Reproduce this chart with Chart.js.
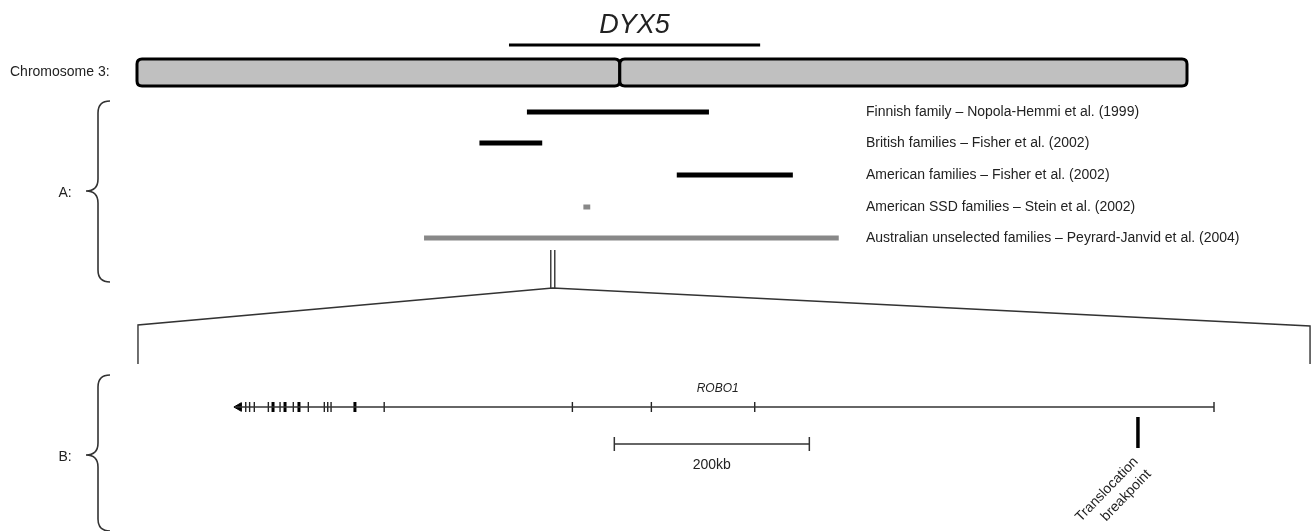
<!DOCTYPE html>
<html><head><meta charset="utf-8">
<script src="https://cdn.jsdelivr.net/npm/chart.js@4.4.1/dist/chart.umd.min.js"></script>
<style>html,body{margin:0;padding:0;background:#fff;}#wrap{width:1313px;height:531px;position:relative;}</style>
</head><body><div id="wrap"><canvas id="c"></canvas></div>
<script>
// ---------------- DATA ----------------
const chromosomeName = 'Chromosome 3:';
const chromosomeLengthMb = 199;
const centromereMb = 91.5;
const dyx5Label = 'DYX5';
const dyx5RegionMb = [70.5, 118.1];
const studyLabels = [
  'Finnish family \u2013 Nopola-Hemmi et al. (1999)',
  'British families \u2013 Fisher et al. (2002)',
  'American families \u2013 Fisher et al. (2002)',
  'American SSD families \u2013 Stein et al. (2002)',
  'Australian unselected families \u2013 Peyrard-Janvid et al. (2004)'
];
const studyStartMb = [73.9, 64.9, 102.3, 84.6, 54.4];
const studyEndMb   = [108.4, 76.8, 124.3, 85.9, 133.0];
const zoomCentreMb = 78.8;
const panelLabels = ['A:', 'B:'];
const geneName = 'ROBO1';
const geneSpanKb = [0, 1004];
const exonKb = [11, 15, 19.8, 34.2, 46.2, 59.8, 75.2, 91.6, 95.1, 98.5, 153, 346, 427, 533, 1004];
const exonWideKb = [39, 51.3, 65.6, 123];
const breakpointKb = 926;
const breakpointLabel = ['Translocation', 'breakpoint'];
const scaleBarKb = [389, 589];
const scaleBarLabel = '200kb';

// ---------------- LAYOUT / STYLE ----------------
const W = 1313, H = 531;
const L = {
  chromPx: [137, 1187], genePx: [235, 1214],
  yDyx5Text: 25, yDyx5: 45, chromTop: 59, chromBot: 86,
  rowY: [112, 143, 175, 207, 238],
  doubleTop: 250, apexY: 288, zoomLeftY: 325, zoomRightY: 326, bracketBottom: 364,
  yGene: 407, yGeneLabel: 389, yBreak: 432.5, yScale: 444, yScaleLabel: 465,
  legendX: 866, chromLabelX: 10,
  braceA: [101, 191, 282], braceB: [375, 455, 531],
  braceTip: 86, braceVert: 98, braceHook: 110, panelLabelX: 65,
  bracketKb: [-99.5, 1102.5]
};
const studyColors = ['#000', '#000', '#000', '#888', '#888'];
const FONT = '"Liberation Sans", Arial, sans-serif';
const TEXT = '#222', LINE = '#333';

const pxPerMb = (L.chromPx[1] - L.chromPx[0]) / chromosomeLengthMb;
const pxPerKb = (L.genePx[1] - L.genePx[0]) / (geneSpanKb[1] - geneSpanKb[0]);

const seg = (a, b, y) => [{x: a, y: y}, {x: b, y: y}];
const datasets = [];
datasets.push({xAxisID: 'x', data: seg(dyx5RegionMb[0], dyx5RegionMb[1], L.yDyx5), borderColor: '#000', borderWidth: 3, showLine: true, pointRadius: 0});
studyLabels.forEach((lab, i) => {
  datasets.push({label: lab, xAxisID: 'x', data: seg(studyStartMb[i], studyEndMb[i], L.rowY[i]), borderColor: studyColors[i], borderWidth: 5, showLine: true, pointRadius: 0});
});
datasets.push({xAxisID: 'xg', data: seg(geneSpanKb[0], geneSpanKb[1], L.yGene), borderColor: LINE, borderWidth: 1.6, showLine: true, pointRadius: 0});
datasets.push({xAxisID: 'xg', data: [{x: geneSpanKb[0] + 4, y: L.yGene}], pointStyle: 'triangle', rotation: -90, pointRadius: 5, backgroundColor: '#000', borderColor: '#000', borderWidth: 1, showLine: false});
datasets.push({xAxisID: 'xg', data: exonKb.map(k => ({x: k, y: L.yGene})), pointStyle: 'line', rotation: 90, pointRadius: 5, borderColor: '#222', borderWidth: 1.4, showLine: false});
datasets.push({xAxisID: 'xg', data: exonWideKb.map(k => ({x: k, y: L.yGene})), pointStyle: 'line', rotation: 90, pointRadius: 5, borderColor: '#000', borderWidth: 3, showLine: false});
datasets.push({xAxisID: 'xg', data: [{x: breakpointKb, y: L.yBreak}], pointStyle: 'line', rotation: 90, pointRadius: 15.5, borderColor: '#000', borderWidth: 3.5, showLine: false});
datasets.push({xAxisID: 'xg', data: seg(scaleBarKb[0], scaleBarKb[1], L.yScale), borderColor: LINE, borderWidth: 1.5, showLine: true, pointStyle: 'line', rotation: 90, pointRadius: 7, pointBorderColor: LINE, pointBorderWidth: 1.5});

function roundRect(ctx, x, y, w, h, r) {
  ctx.beginPath();
  ctx.moveTo(x + r, y); ctx.lineTo(x + w - r, y); ctx.quadraticCurveTo(x + w, y, x + w, y + r);
  ctx.lineTo(x + w, y + h - r); ctx.quadraticCurveTo(x + w, y + h, x + w - r, y + h);
  ctx.lineTo(x + r, y + h); ctx.quadraticCurveTo(x, y + h, x, y + h - r);
  ctx.lineTo(x, y + r); ctx.quadraticCurveTo(x, y, x + r, y); ctx.closePath();
}
function brace(ctx, top, mid, bot) {
  const t = L.braceTip, v = L.braceVert, h = L.braceHook, r = 12;
  ctx.beginPath();
  ctx.moveTo(h, top); ctx.quadraticCurveTo(v, top, v, top + r);
  ctx.lineTo(v, mid - r); ctx.quadraticCurveTo(v, mid, t, mid);
  ctx.quadraticCurveTo(v, mid, v, mid + r);
  ctx.lineTo(v, bot - r); ctx.quadraticCurveTo(v, bot, h, bot);
  ctx.stroke();
}

const diagram = {
  id: 'diagram',
  beforeDatasetsDraw(chart) {
    const ctx = chart.ctx, x = chart.scales.x, xg = chart.scales.xg, y = chart.scales.y;
    ctx.save();
    // chromosome arms
    ctx.lineWidth = 3; ctx.strokeStyle = '#000'; ctx.fillStyle = '#c0c0c0';
    const top = y.getPixelForValue(L.chromTop), bot = y.getPixelForValue(L.chromBot);
    [[0, centromereMb], [centromereMb, chromosomeLengthMb]].forEach(([a, b]) => {
      const x0 = x.getPixelForValue(a), x1 = x.getPixelForValue(b);
      roundRect(ctx, x0, top, x1 - x0, bot - top, 5);
      ctx.fill(); ctx.stroke();
    });
    // zoom connector
    ctx.lineWidth = 1.4; ctx.strokeStyle = LINE;
    const ax = x.getPixelForValue(zoomCentreMb);
    ctx.beginPath();
    ctx.moveTo(ax - 2, L.doubleTop); ctx.lineTo(ax - 2, L.apexY);
    ctx.moveTo(ax + 2, L.doubleTop); ctx.lineTo(ax + 2, L.apexY);
    ctx.stroke();
    const lx = xg.getPixelForValue(L.bracketKb[0]), rx = xg.getPixelForValue(L.bracketKb[1]);
    ctx.beginPath();
    ctx.moveTo(lx, L.bracketBottom); ctx.lineTo(lx, L.zoomLeftY); ctx.lineTo(ax, L.apexY);
    ctx.lineTo(rx, L.zoomRightY); ctx.lineTo(rx, L.bracketBottom);
    ctx.stroke();
    // braces
    ctx.lineWidth = 1.6;
    brace(ctx, ...L.braceA); brace(ctx, ...L.braceB);
    // texts
    ctx.fillStyle = TEXT; ctx.textBaseline = 'middle';
    ctx.font = 'italic 27px ' + FONT; ctx.textAlign = 'center';
    ctx.fillText(dyx5Label, x.getPixelForValue((dyx5RegionMb[0] + dyx5RegionMb[1]) / 2), L.yDyx5Text);
    ctx.font = '14px ' + FONT; ctx.textAlign = 'left';
    ctx.fillText(chromosomeName, L.chromLabelX, (top + bot) / 2);
    studyLabels.forEach((lab, i) => ctx.fillText(lab, L.legendX, L.rowY[i]));
    ctx.textAlign = 'center';
    ctx.fillText(panelLabels[0], L.panelLabelX, L.braceA[1] + 2);
    ctx.fillText(panelLabels[1], L.panelLabelX, L.braceB[1] + 2);
    ctx.fillText(scaleBarLabel, xg.getPixelForValue((scaleBarKb[0] + scaleBarKb[1]) / 2), L.yScaleLabel);
    ctx.font = 'italic 12px ' + FONT;
    ctx.fillText(geneName, xg.getPixelForValue(495), L.yGeneLabel);
    // breakpoint label
    const bx = xg.getPixelForValue(breakpointKb);
    ctx.save();
    ctx.translate(bx - 2, L.yBreak + 27);
    ctx.rotate(-46 * Math.PI / 180);
    ctx.font = '14px ' + FONT; ctx.textAlign = 'right';
    ctx.fillText(breakpointLabel[0], 0, 0);
    ctx.fillText(breakpointLabel[1], 0, 18);
    ctx.restore();
    ctx.restore();
  }
};

new Chart(document.getElementById('c'), {
  type: 'scatter',
  data: {datasets},
  options: {
    responsive: true, maintainAspectRatio: false, animation: false, devicePixelRatio: 1,
    events: [],
    layout: {padding: 0, autoPadding: false},
    plugins: {legend: {display: false}, tooltip: {enabled: false}},
    elements: {line: {tension: 0, borderCapStyle: 'butt'}},
    scales: {
      x: {type: 'linear', display: false, min: -L.chromPx[0] / pxPerMb, max: (W - L.chromPx[0]) / pxPerMb},
      xg: {type: 'linear', display: false, min: geneSpanKb[0] - L.genePx[0] / pxPerKb, max: geneSpanKb[0] + (W - L.genePx[0]) / pxPerKb},
      y: {type: 'linear', display: false, reverse: true, min: 0, max: H}
    }
  },
  plugins: [diagram]
});
</script></body></html>
